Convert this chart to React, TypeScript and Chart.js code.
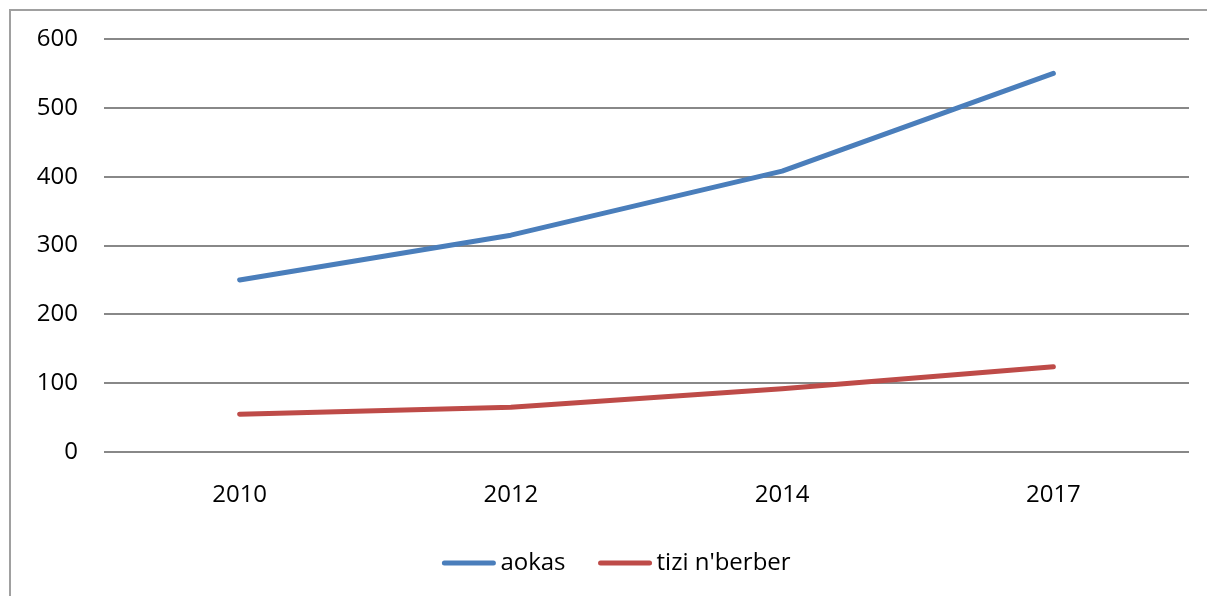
import React, { useEffect, useRef } from "react";
import { Chart, registerables } from "chart.js";

Chart.register(...registerables);

const categories = ["2010", "2012", "2014", "2017"];
const aokas = [250, 315, 408, 550];
const tizi = [55, 65, 92, 124];
const seriesNames = ["aokas", "tizi n'berber"];
const seriesColors = ["#4a7ebb", "#be4b48"];

const FONT = "'Open Sans', 'Liberation Sans', sans-serif";
const FONT_SIZE = 24;

const framePlugin = {
  id: "frame",
  beforeDraw(chart: any) {
    const ctx = chart.ctx;
    ctx.save();
    ctx.fillStyle = "#ffffff";
    ctx.fillRect(0, 0, chart.width, chart.height);
    ctx.strokeStyle = "#a0a0a0";
    ctx.lineWidth = 2;
    ctx.strokeRect(2, 2, chart.width + 20, chart.height + 20);
    ctx.restore();
  },
};

const legendPlugin = {
  id: "customLegend",
  afterDraw(chart: any) {
    const ctx = chart.ctx;
    ctx.save();
    ctx.font = `${FONT_SIZE}px ${FONT}`;
    ctx.textBaseline = "middle";
    const lineLen = 53;
    const gapText = 5;
    const gapItem = 33;
    const widths = seriesNames.map((n) => lineLen + gapText + ctx.measureText(n).width);
    const total = widths.reduce((a, b) => a + b, 0) + gapItem * (widths.length - 1);
    const center = chart.width / 2 + 5;
    let x = center - total / 2;
    const y = 555;
    seriesNames.forEach((n, i) => {
      ctx.strokeStyle = seriesColors[i];
      ctx.lineWidth = 5;
      ctx.lineCap = "round";
      ctx.beginPath();
      ctx.moveTo(x + 2, y);
      ctx.lineTo(x + lineLen - 2, y);
      ctx.stroke();
      ctx.fillStyle = "#000000";
      ctx.fillText(n, x + lineLen + gapText, y);
      x += widths[i] + gapItem;
    });
    ctx.restore();
  },
};

export default function App() {
  const ref = useRef<HTMLCanvasElement>(null);
  useEffect(() => {
    if (!ref.current) return;
    const chart = new Chart(ref.current, {
      type: "line",
      data: {
        labels: categories,
        datasets: [
          {
            label: seriesNames[0],
            data: aokas,
            borderColor: seriesColors[0],
            backgroundColor: seriesColors[0],
            borderWidth: 5,
            borderCapStyle: "round",
            borderJoinStyle: "round",
            pointRadius: 0,
            tension: 0,
          },
          {
            label: seriesNames[1],
            data: tizi,
            borderColor: seriesColors[1],
            backgroundColor: seriesColors[1],
            borderWidth: 5,
            borderCapStyle: "round",
            borderJoinStyle: "round",
            pointRadius: 0,
            tension: 0,
          },
        ],
      },
      options: {
        animation: false,
        responsive: false,
        layout: { padding: { left: 0, top: 31, right: 26, bottom: 0 } },
        plugins: {
          legend: { display: false },
          tooltip: { enabled: false },
        },
        scales: {
          x: {
            offset: true,
            grid: { display: false, drawTicks: false },
            border: { display: false },
            ticks: {
              color: "#000000",
              font: { family: FONT, size: FONT_SIZE },
              padding: 29,
              maxRotation: 0,
            },
            afterFit(scale: any) {
              scale.height = 144;
              scale.paddingLeft = 0;
              scale.paddingRight = 0;
            },
          },
          y: {
            min: 0,
            max: 600,
            grid: { color: "#888888", lineWidth: 2, drawTicks: false },
            border: { display: false },
            ticks: {
              stepSize: 100,
              color: "#000000",
              font: { family: FONT, size: FONT_SIZE },
              padding: 26,
            },
            afterFit(scale: any) {
              scale.width = 96;
              scale.paddingTop = 0;
              scale.paddingBottom = 0;
            },
          },
        },
      },
      plugins: [framePlugin, legendPlugin],
    });
    return () => chart.destroy();
  }, []);
  return <canvas ref={ref} width={1207} height={588} style={{ display: "block" }} />;
}
